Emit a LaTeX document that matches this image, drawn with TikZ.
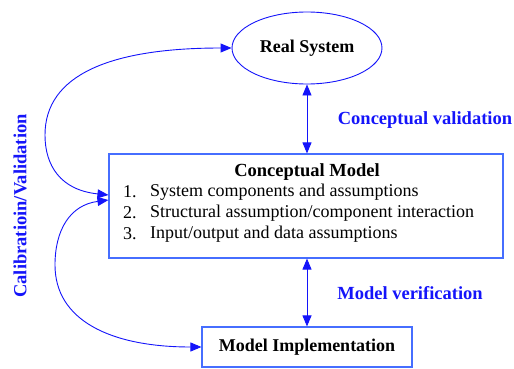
\documentclass[tikz,border=0pt]{standalone}
\usepackage{fontspec}
\setmainfont{Liberation Serif}
\usetikzlibrary{arrows.meta,shapes.geometric,positioning}
\definecolor{lineblue}{RGB}{20,20,250}
\definecolor{boxblue}{RGB}{70,110,255}
\tikzset{
  box/.style={draw=boxblue, line width=1.1pt, rectangle},
  link/.style={draw=lineblue, line width=0.9pt, {Triangle[length=11pt,width=9pt]}-{Triangle[length=11pt,width=9pt]}},
  lbl/.style={text=lineblue, font=\fontsize{18.5}{21}\selectfont\bfseries},
  item/.style={font=\fontsize{18}{21}\selectfont, anchor=west, inner sep=0pt}
}
\begin{document}
\begin{tikzpicture}[x=1pt,y=-1pt]
  \useasboundingbox (0,0) rectangle (514,369);
  % Define nodes
  \node[draw=lineblue, line width=0.9pt, ellipse, minimum width=150pt, minimum height=72pt,
        font=\fontsize{18}{21}\selectfont\bfseries] (real) at (307,48) {Real System};
  \node[box, minimum width=394pt, minimum height=104pt] (concept) at (306,206) {};
  \node[font=\fontsize{18.5}{21}\selectfont\bfseries, inner sep=0pt] (title) at (307,172) {Conceptual Model};
  \node[item] (n1) at (123,192) {1.};
  \node[item] (n2) at (123,213) {2.};
  \node[item] (n3) at (123,234) {3.};
  \node[item] (i1) at (150,192) {System components and assumptions};
  \node[item] (i2) at (150,213) {Structural assumption/component interaction};
  \node[item] (i3) at (150,234) {Input/output and data assumptions};
  \node[box, minimum width=210pt, minimum height=40pt,
        font=\fontsize{18}{21}\selectfont\bfseries] (impl) at (307,347) {Model Implementation};

  % Labels
  \node[lbl] (cval) at (425,120) {Conceptual validation};
  \node[lbl] (mver) at (410,293) {Model verification};
  \node[lbl, rotate=90] (calib) at (20,206) {Calibratioin/Validation};

  % Draw edges
  \draw[link] (real.south) -- (real.south |- concept.north);
  \draw[link] (concept.south -| impl.north) -- (impl.north);
  \draw[link] ([yshift=11pt]concept.west) .. controls (60,190) and (45,165) .. (45,135)
    .. controls (45,75) and (110,48) .. (real.west);
  \draw[link] ([yshift=6pt]concept.west) .. controls (70,205) and (55,230) .. (55,265)
    .. controls (55,320) and (110,347) .. (impl.west);
\end{tikzpicture}
\end{document}
